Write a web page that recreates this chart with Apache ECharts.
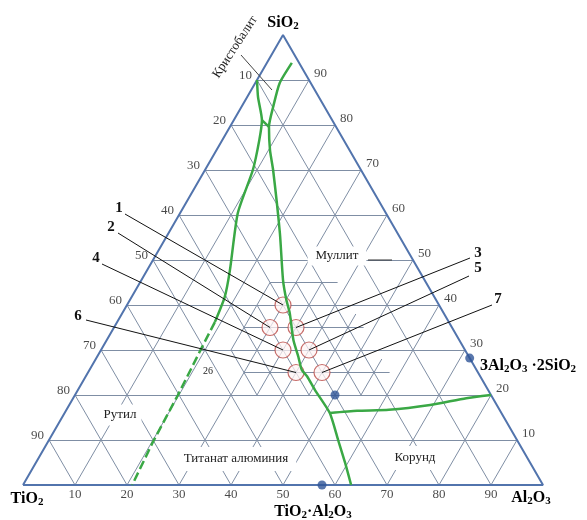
<!DOCTYPE html>
<html><head><meta charset="utf-8">
<script src="https://cdn.jsdelivr.net/npm/echarts@6/dist/echarts.min.js"></script>
<style>html,body{margin:0;padding:0;background:#fff}#c{width:587px;height:520px}</style>
</head><body><div id="c"></div>
<script>
// ---------- DATA (compositions as [SiO2 %, Al2O3 %]; TiO2 = 100 - SiO2 - Al2O3) ----------
const tickValues = [10, 20, 30, 40, 50, 60, 70, 80, 90];
const fineTickValues = [15, 25, 35, 45, 55];

const leftBoundarySolid = [[90,0],[86.2,2.1],[81.1,5.4],[76.7,7.1],[70.0,9.2],[60.4,11.1],[47.8,15.9],[41.8,17.9],[36.2,18.8]];
const leftBoundaryDashed = [[36.2,18.8],[30.7,19.1],[20.0,19.8],[9.6,20.2],[0,21.0]];
const junctionSegment = [[81.1,5.4],[79.6,7.5]];
const rightBoundary = [[93.8,4.8],[89.3,4.7],[84.0,6.1],[79.6,7.5],[74.4,10.3],[70.0,13.1],[56.0,21.4],[45.6,27.2],[41.1,30.1],[38.2,32.2],[32.2,35.9],[28.5,38.7],[25.6,40.8],[24.1,42.6],[21.1,45.6],[16.0,51.0],[10.0,55.6],[4.9,59.5],[0,63.1]];
const corundumBoundary = [[16.0,51.0],[16.5,56.0],[16.7,62.0],[17.8,69.4],[19.3,75.6],[20.0,80.0]];

const sampleNames = ['1','2','3','4','5','6','7'];
const samplePoints = [[40,30],[35,30],[35,35],[30,35],[30,40],[25,40],[25,45]];
const compoundPoints = [[28.2,71.8],[0,57.5],[20,50]];

// ---------- helpers ----------
const K = Math.sqrt(3) / 2;
function tern(s, a) { return [a + s / 2, s * K]; }
function tp(p) { return tern(p[0], p[1]); }

// regular 10% grid
const gridSegs = [];
tickValues.forEach(v => {
  gridSegs.push([tern(v, 0), tern(v, 100 - v)]);        // SiO2 = v
  gridSegs.push([tern(0, v), tern(100 - v, v)]);        // Al2O3 = v
  gridSegs.push([tern(0, 100 - v), tern(100 - v, 0)]);  // TiO2 = v
});
// finer 5% grid around the samples
function inFine(s, a) { const t = 100 - s - a; return s >= 20 && s <= 45 && t >= 17 && t <= 45 && a >= 25 && t <= 115 - 2 * s + 5; }
function clipLine(f) {
  let first = null, last = null;
  for (let u = 0; u <= 100.001; u += 0.25) { const p = f(u); if (inFine(p[0], p[1])) { if (!first) first = p; last = p; } }
  return first && last && (first !== last) ? [tp(first), tp(last)] : null;
}
const fineSegs = [];
fineTickValues.forEach(v => {
  [u => [v, u], u => [u, v], u => [u, 100 - v - u]].forEach(f => { const seg = clipLine(f); if (seg) fineSegs.push(seg); });
});

const chart = echarts.init(document.getElementById('c'), null, { renderer: 'canvas' });
const serif = '"Liberation Serif", "Times New Roman", serif';
const tickLabel = { show: true, position: 'inside', fontFamily: serif, fontSize: 13, color: '#1a1a1a', formatter: '{b}' };
const green = '#3aa845';

chart.setOption({
  animation: false,
  backgroundColor: '#fff',
  grid: { left: 23, top: 35, width: 520, height: 450 },
  xAxis: { type: 'value', min: 0, max: 100, show: false },
  yAxis: { type: 'value', min: 0, max: 100 * K, show: false },
  series: [
    { type: 'lines', coordinateSystem: 'cartesian2d', silent: true, z: 1,
      data: gridSegs.concat(fineSegs).map(c => ({ coords: c })),
      lineStyle: { color: '#7f8ea4', width: 1, opacity: 1 } },
    { type: 'line', silent: true, z: 2, showSymbol: false,
      data: [tern(0,0), tern(0,100), tern(100,0), tern(0,0)],
      lineStyle: { color: '#5274ad', width: 2 } },
    { type: 'scatter', z: 3, symbol: 'circle', symbolSize: 16,
      data: samplePoints.map((p, i) => ({ value: tp(p), name: sampleNames[i] })),
      itemStyle: { color: 'rgba(255,244,244,0.9)', borderColor: '#b94a46', borderWidth: 1.2 } },
    { type: 'line', z: 4, showSymbol: false, smooth: 0.2, data: leftBoundarySolid.map(tp),
      lineStyle: { color: green, width: 2.5 } },
    { type: 'line', z: 4, showSymbol: false, data: leftBoundaryDashed.map(tp),
      lineStyle: { color: green, width: 2.5, type: [9, 4] } },
    { type: 'line', z: 4, showSymbol: false, data: junctionSegment.map(tp),
      lineStyle: { color: green, width: 2.5 } },
    { type: 'line', z: 4, showSymbol: false, smooth: 0.2, data: rightBoundary.map(tp),
      lineStyle: { color: green, width: 2.5 } },
    { type: 'line', z: 4, showSymbol: false, smooth: 0.2, data: corundumBoundary.map(tp),
      lineStyle: { color: green, width: 2.5 } },
    { type: 'scatter', z: 5, symbolSize: 9, data: compoundPoints.map(tp),
      itemStyle: { color: '#2f5597' } },
    { type: 'scatter', z: 6, symbolSize: 0, silent: true,
      data: tickValues.map(v => ({ value: tern(0, v), name: String(v) })),
      label: Object.assign({}, tickLabel, { offset: [0, 10] }) },
    { type: 'scatter', z: 6, symbolSize: 0, silent: true,
      data: tickValues.map(v => ({ value: tern(v, 0), name: String(100 - v) })),
      label: Object.assign({}, tickLabel, { align: 'right', offset: [-5, -4] }) },
    { type: 'scatter', z: 6, symbolSize: 0, silent: true,
      data: tickValues.map(v => ({ value: tern(v, 100 - v), name: String(v) })),
      label: Object.assign({}, tickLabel, { align: 'left', offset: [5, -6] }) }
  ]
});

// ---------- annotations ----------
const rich = {
  b: { fontFamily: serif, fontSize: 16, fontWeight: 'bold', color: '#111' },
  s: { fontFamily: serif, fontSize: 11, fontWeight: 'bold', color: '#111', padding: [7, 0, 0, 0] }
};
function formula(txt, x, y, align) {
  return { type: 'text', x: x, y: y, z: 100,
    style: { text: txt, rich: rich, align: align || 'center', verticalAlign: 'middle' } };
}
function regionLabel(txt, x, y, pad) {
  return { type: 'text', x: x, y: y, z: 90,
    style: { text: txt, fontFamily: serif, fontSize: 13, fill: '#222', align: 'center', verticalAlign: 'middle',
      backgroundColor: '#fff', padding: pad } };
}
const labelLayout = {
  '1': { text: [119, 208], start: [125, 214] },
  '2': { text: [111, 227], start: [118, 233] },
  '3': { text: [478, 253], start: [470, 258] },
  '4': { text: [96, 258], start: [102, 264] },
  '5': { text: [478, 268], start: [469, 276] },
  '6': { text: [78, 316], start: [86, 320] },
  '7': { text: [498, 299], start: [492, 305] }
};
const g = [];
samplePoints.forEach((p, i) => {
  const c = chart.convertToPixel({ gridIndex: 0 }, tp(p));
  const L = labelLayout[sampleNames[i]];
  g.push({ type: 'line', z: 95, shape: { x1: L.start[0], y1: L.start[1], x2: c[0], y2: c[1] },
    style: { stroke: '#111', lineWidth: 1 } });
  g.push({ type: 'text', x: L.text[0], y: L.text[1], z: 100,
    style: { text: sampleNames[i], fontFamily: serif, fontSize: 15, fontWeight: 'bold', fill: '#111', align: 'center', verticalAlign: 'middle' } });
});
g.push(formula('{b|SiO}{s|2}', 283, 23));
g.push(formula('{b|TiO}{s|2}', 27, 499));
g.push(formula('{b|Al}{s|2}{b|O}{s|3}', 531, 498));
g.push(formula('{b|TiO}{s|2}{b|·Al}{s|2}{b|O}{s|3}', 313, 512));
g.push(formula('{b|3Al}{s|2}{b|O}{s|3}{b| ·2SiO}{s|2}', 480, 366, 'left'));
g.push(regionLabel('Муллит', 337, 256, [3, 8]));
g.push({ type: 'line', z: 95, shape: { x1: 368, y1: 260, x2: 392, y2: 260 }, style: { stroke: '#333', lineWidth: 1 } });
g.push(regionLabel('Рутил', 120, 415, [4, 5]));
g.push(regionLabel('Титанат алюминия', 236, 459, [7, 8, 4, 8]));
g.push(regionLabel('Корунд', 415, 458, [7, 8, 4, 8]));
g.push({ type: 'text', x: 208, y: 371, z: 100,
  style: { text: '26', fontFamily: serif, fontSize: 10, fill: '#222', align: 'center', verticalAlign: 'middle' } });
g.push({ type: 'line', z: 95, shape: { x1: 241, y1: 55, x2: 272, y2: 90 }, style: { stroke: '#444', lineWidth: 1 } });
g.push({ type: 'text', x: 235, y: 47, z: 100, rotation: 57 * Math.PI / 180,
  style: { text: 'Кристобалит', fontFamily: serif, fontSize: 13, fill: '#222', align: 'center', verticalAlign: 'middle' } });
chart.setOption({ graphic: g });
</script></body></html>
